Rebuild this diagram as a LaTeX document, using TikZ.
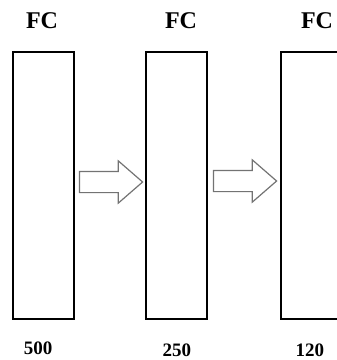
\documentclass[tikz,border=0pt]{standalone}
\usepackage{fontspec}
\setmainfont{Liberation Serif}
\usetikzlibrary{shapes.arrows}

\begin{document}
\begin{tikzpicture}[x=1pt, y=-1pt,
        fcbox/.style={draw, line width=2pt, rectangle, minimum width=61pt, minimum height=267pt, inner sep=0pt},
        fclabel/.style={font=\fontsize{24}{26}\selectfont\bfseries, inner sep=0pt, anchor=base},
        sizelabel/.style={font=\fontsize{19}{21}\selectfont\bfseries, inner sep=0pt, text depth=0pt, anchor=base},
        flow/.style={single arrow, draw=black!55, line width=1.2pt, inner sep=0pt,
            text height=20pt, text depth=0pt, anchor=tail,
            minimum height=63pt, single arrow head extend=10.5pt,
            single arrow tip angle=82, single arrow head indent=0pt}]
    \useasboundingbox (0,0) rectangle (337,360);
    \clip (0,0) rectangle (337,360);
    % layers
    \node[fcbox] (fc1) at (43.5,185) {};
    \node[fcbox] (fc2) at (177,185) {};
    \node[fcbox, minimum width=70pt] (fc3) at (316,185) {};
    % titles and sizes
    \node[fclabel] (t1) at (42,28) {FC};
    \node[fclabel] (t2) at (181,28) {FC};
    \node[fclabel] (t3) at (317,28) {FC};
    \node[sizelabel] (n1) at (38,354) {500};
    \node[sizelabel] (n2) at (177,356) {250};
    \node[sizelabel] (n3) at (310,356) {120};
    % arrows between layers
    \node[flow] (a1) at (79,182) {};
    \node[flow] (a2) at (213,181) {};
\end{tikzpicture}
\end{document}
